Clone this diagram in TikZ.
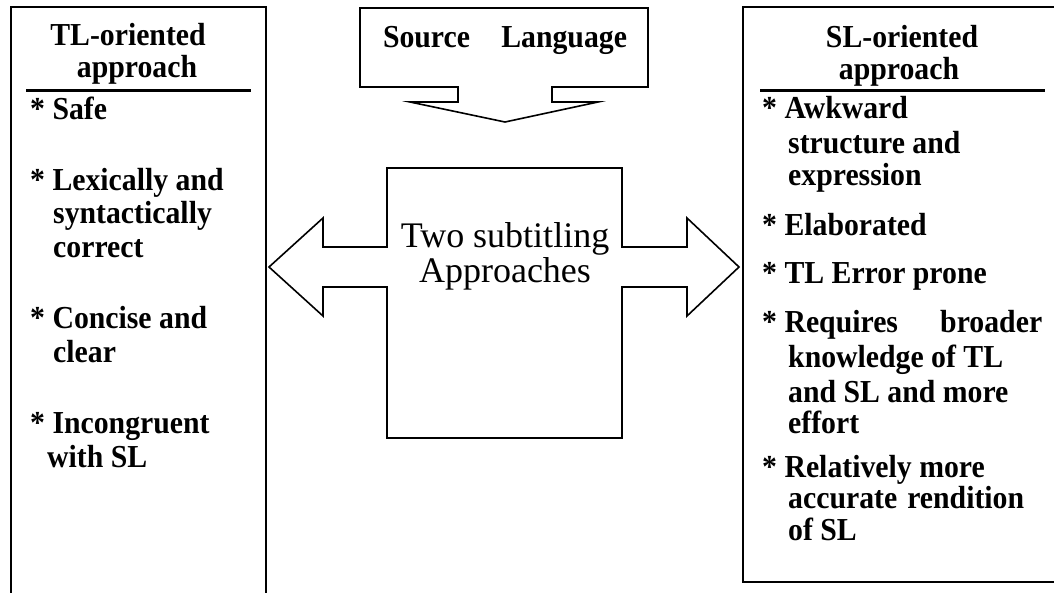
\documentclass[tikz,border=0pt]{standalone}
\usepackage{fontspec}
\setmainfont{Liberation Serif}
\newfontfamily\tallserif[FakeStretch=0.93]{Liberation Serif}
\begin{document}
\begin{tikzpicture}[x=1pt,y=-1pt,
  outline/.style={draw=black, line width=1.6pt, line join=miter},
  hrule/.style={draw=black, line width=3pt},
  bt/.style={font=\tallserif\fontsize{32}{36}\selectfont\bfseries, anchor=base west, inner sep=0pt},
  hd/.style={font=\tallserif\fontsize{32}{36}\selectfont\bfseries, anchor=base, inner sep=0pt},
  ct/.style={font=\fontsize{36}{40}\selectfont, anchor=base, inner sep=0pt}]
\useasboundingbox (0,0) rectangle (1054,592);
\fill[white] (0,0) rectangle (1054,592);

% left and right boxes
\draw[outline] (11,612) -- (11,7) -- (266,7) -- (266,612);
\draw[outline] (1072,7) -- (743,7) -- (743,582) -- (1072,582);
\draw[hrule] (26,90) -- (251,90);
\draw[hrule] (760,90) -- (1045,90);

% Source Language down-arrow callout
\draw[outline] (360,8) -- (648,8) -- (648,87) -- (552,87) -- (552,102) -- (598,102)
  -- (505,122) -- (410,102) -- (458,102) -- (458,87) -- (360,87) -- cycle;

% central left-right arrow callout
\draw[outline] (387,168) -- (622,168) -- (622,247) -- (687,247) -- (687,218) -- (739,267)
  -- (687,316) -- (687,287) -- (622,287) -- (622,438) -- (387,438) -- (387,287)
  -- (323,287) -- (323,316) -- (269,267) -- (323,218) -- (323,247) -- (387,247) -- cycle;

% texts
\node[hd] (src) at (505,47) {\hbox to 244pt{Source\hfil Language}};
\node[ct] (two) at (505,247) {Two subtitling};
\node[ct] (appr) at (505,282) {Approaches};

\node[hd] (tlh1) at (128,45) {TL-oriented};
\node[hd] (tlh2) at (137,77) {approach};
\node[bt] (tl1) at (30,119) {* Safe};
\node[bt] (tl2) at (30,190) {* Lexically and};
\node[bt] (tl3) at (53,223) {syntactically};
\node[bt] (tl4) at (53,257) {correct};
\node[bt] (tl5) at (30,328) {* Concise and};
\node[bt] (tl6) at (53,362) {clear};
\node[bt] (tl7) at (30,433) {* Incongruent};
\node[bt] (tl8) at (47,467) {with SL};

\node[hd] (slh1) at (902,47) {SL-oriented};
\node[hd] (slh2) at (899,79) {approach};
\node[bt] (sl1) at (762,118) {* Awkward};
\node[bt] (sl2) at (788,153) {structure and};
\node[bt] (sl3) at (788,185) {expression};
\node[bt] (sl4) at (762,235) {* Elaborated};
\node[bt] (sl5) at (762,283) {* TL Error prone};
\node[bt] (sl6) at (762,332) {\hbox to 280pt{* Requires\hfil broader}};
\node[bt] (sl7) at (788,367) {knowledge of TL};
\node[bt] (sl8) at (788,402) {and SL and more};
\node[bt] (sl9) at (788,433) {effort};
\node[bt] (sl10) at (762,477) {* Relatively more};
\node[bt] (sl11) at (788,508) {accurate\hspace{10pt}rendition};
\node[bt] (sl12) at (788,540) {of SL};
\end{tikzpicture}
\end{document}
